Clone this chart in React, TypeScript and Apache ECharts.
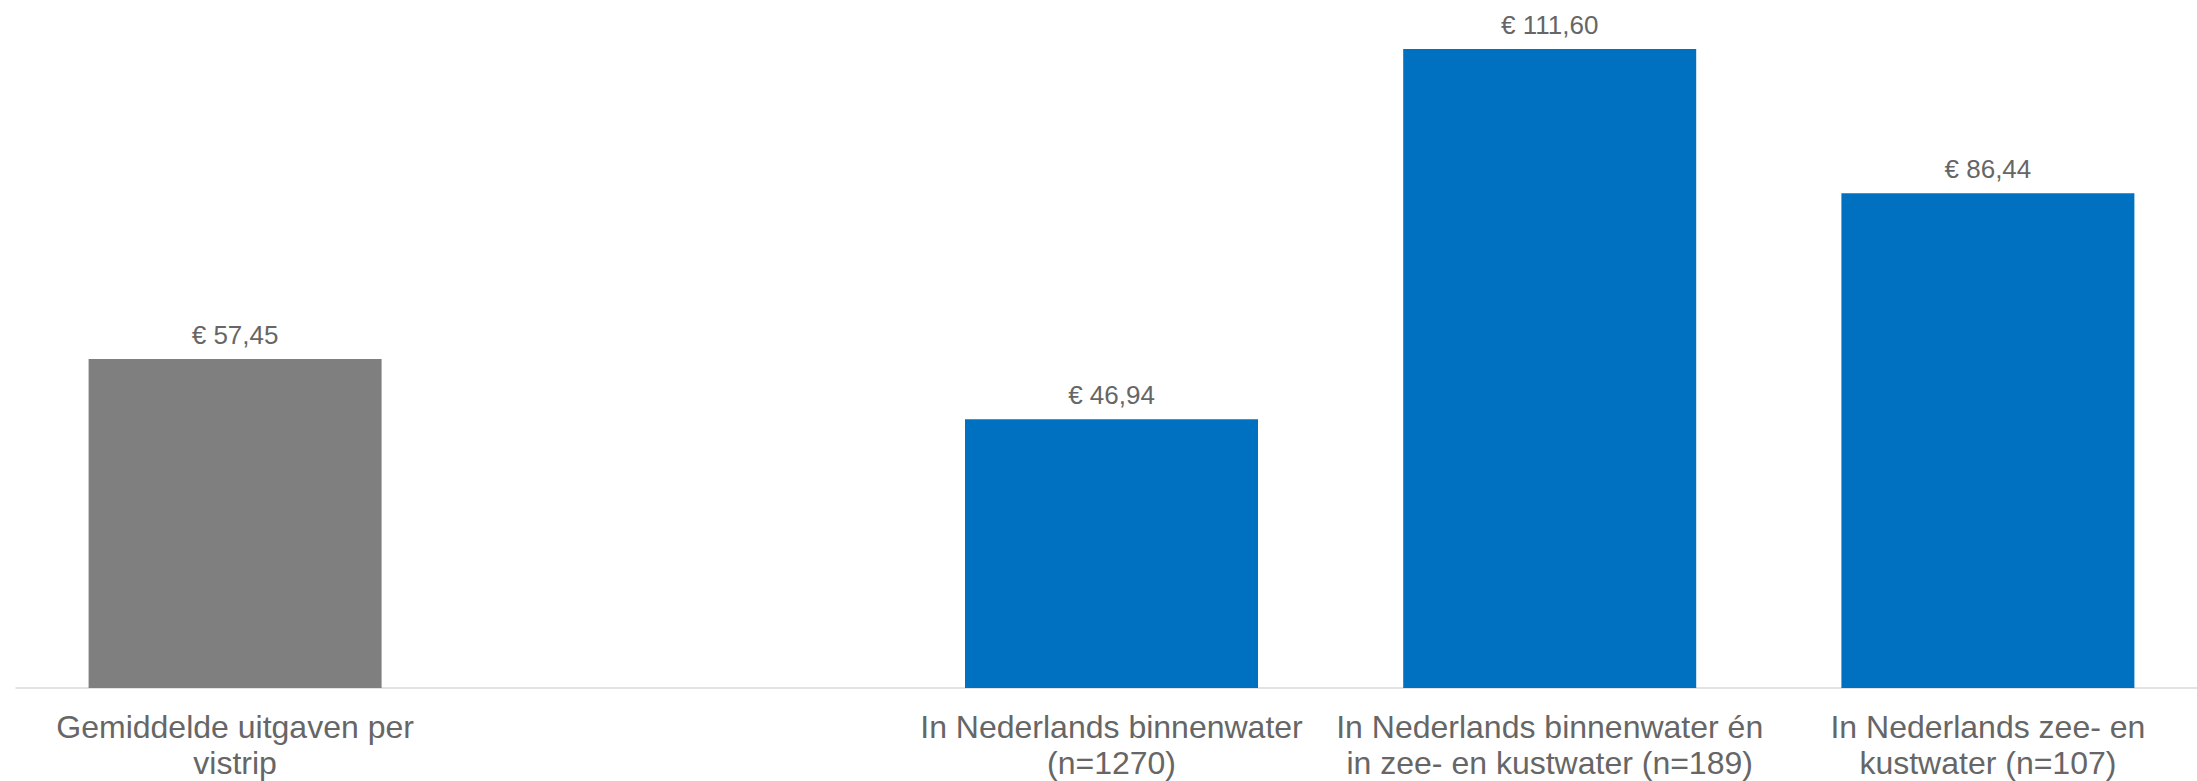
import React, { useEffect, useRef } from "react";
import * as echarts from "echarts";

const categories: string[] = [
  "Gemiddelde uitgaven per\nvistrip",
  "",
  "In Nederlands binnenwater\n(n=1270)",
  "In Nederlands binnenwater én\nin zee- en kustwater (n=189)",
  "In Nederlands zee- en\nkustwater (n=107)",
];

const values: (number | null)[] = [57.45, null, 46.94, 111.6, 86.44];

const barColors: string[] = ["#7f7f7f", "#0070c0", "#0070c0", "#0070c0", "#0070c0"];

const FONT = "'Liberation Sans', Arial, Helvetica, sans-serif";
const TEXT = "#666666";

export default function App() {
  const ref = useRef<HTMLDivElement>(null);

  useEffect(() => {
    if (!ref.current) return;
    const chart = echarts.init(ref.current, undefined, { renderer: "svg" });
    chart.setOption({
      animation: false,
      backgroundColor: "#ffffff",
      grid: { left: 16, width: 2191, top: 1, bottom: 93, containLabel: false },
      xAxis: {
        type: "category",
        data: categories,
        axisLine: { show: true, lineStyle: { color: "#d9d9d9", width: 1.5 } },
        axisTick: { show: false },
        axisLabel: {
          interval: 0,
          color: TEXT,
          fontFamily: FONT,
          fontSize: 32,
          lineHeight: 36,
          margin: 21,
        },
      },
      yAxis: {
        type: "value",
        min: 0,
        max: 120,
        show: false,
        splitLine: { show: false },
      },
      series: [
        {
          type: "bar",
          barWidth: 293,
          data: values.map((v, i) => ({
            value: v,
            itemStyle: { color: barColors[i] },
          })),
          label: {
            show: true,
            position: "top",
            distance: 11,
            color: TEXT,
            fontFamily: FONT,
            fontSize: 26,
            formatter: (p: any) =>
              p.value == null ? "" : "€ " + Number(p.value).toFixed(2).replace(".", ","),
          },
        },
      ],
    });
    return () => chart.dispose();
  }, []);

  return (
    <div
      style={{
        position: "fixed",
        left: 0,
        top: 0,
        width: 2197,
        height: 781,
        overflow: "hidden",
        background: "#ffffff",
      }}
    >
      <div ref={ref} style={{ width: 2215, height: 781 }} />
    </div>
  );
}
